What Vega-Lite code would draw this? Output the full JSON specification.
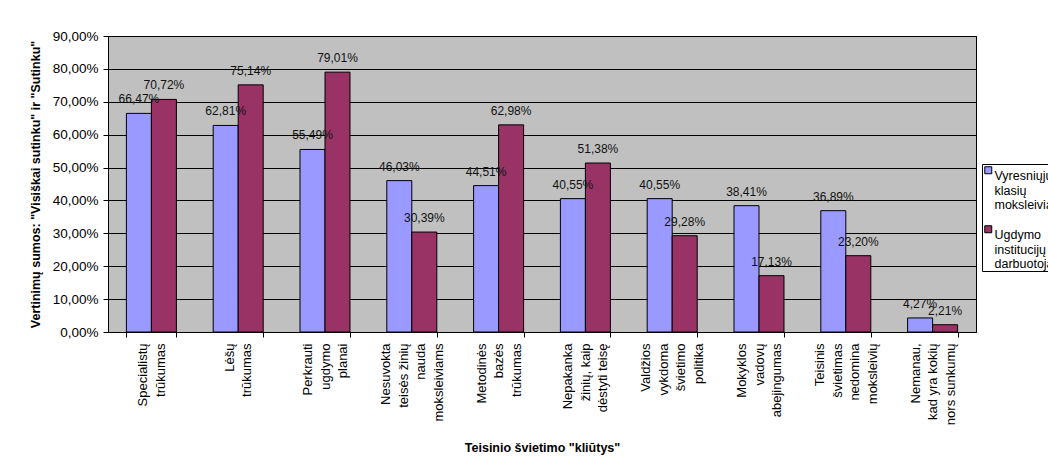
{
  "$schema": "https://vega.github.io/schema/vega-lite/v6.json",
  "width": 868,
  "height": 296,
  "autosize": {"type": "none"},
  "padding": {"left": 108, "top": 36, "right": 72, "bottom": 132},
  "background": "white",
  "data": {
    "values": [
      {"cat": "Specialistų\ntrūkumas", "series": "Vyresniųjų klasių moksleiviai", "value": 0.6647},
      {"cat": "Specialistų\ntrūkumas", "series": "Ugdymo institucijų darbuotojai", "value": 0.7072},
      {"cat": "Lėšų\ntrūkumas", "series": "Vyresniųjų klasių moksleiviai", "value": 0.6281},
      {"cat": "Lėšų\ntrūkumas", "series": "Ugdymo institucijų darbuotojai", "value": 0.7514},
      {"cat": "Perkrauti\nugdymo\nplanai", "series": "Vyresniųjų klasių moksleiviai", "value": 0.5549},
      {"cat": "Perkrauti\nugdymo\nplanai", "series": "Ugdymo institucijų darbuotojai", "value": 0.7901},
      {"cat": "Nesuvokta\nteisės žinių\nnauda\nmoksleiviams", "series": "Vyresniųjų klasių moksleiviai", "value": 0.4603},
      {"cat": "Nesuvokta\nteisės žinių\nnauda\nmoksleiviams", "series": "Ugdymo institucijų darbuotojai", "value": 0.3039},
      {"cat": "Metodinės\nbazės\ntrūkumas", "series": "Vyresniųjų klasių moksleiviai", "value": 0.4451},
      {"cat": "Metodinės\nbazės\ntrūkumas", "series": "Ugdymo institucijų darbuotojai", "value": 0.6298},
      {"cat": "Nepakanka\nžinių, kaip\ndėstyti teisę", "series": "Vyresniųjų klasių moksleiviai", "value": 0.4055},
      {"cat": "Nepakanka\nžinių, kaip\ndėstyti teisę", "series": "Ugdymo institucijų darbuotojai", "value": 0.5138},
      {"cat": "Valdžios\nvykdoma\nšvietimo\npolitika", "series": "Vyresniųjų klasių moksleiviai", "value": 0.4055},
      {"cat": "Valdžios\nvykdoma\nšvietimo\npolitika", "series": "Ugdymo institucijų darbuotojai", "value": 0.2928},
      {"cat": "Mokyklos\nvadovų\nabejingumas", "series": "Vyresniųjų klasių moksleiviai", "value": 0.3841},
      {"cat": "Mokyklos\nvadovų\nabejingumas", "series": "Ugdymo institucijų darbuotojai", "value": 0.1713},
      {"cat": "Teisinis\nšvietimas\nnedomina\nmoksleivių", "series": "Vyresniųjų klasių moksleiviai", "value": 0.3689},
      {"cat": "Teisinis\nšvietimas\nnedomina\nmoksleivių", "series": "Ugdymo institucijų darbuotojai", "value": 0.2320},
      {"cat": "Nemanau,\nkad yra kokių\nnors sunkumų", "series": "Vyresniųjų klasių moksleiviai", "value": 0.0427},
      {"cat": "Nemanau,\nkad yra kokių\nnors sunkumų", "series": "Ugdymo institucijų darbuotojai", "value": 0.0221}
    ]
  },
  "encoding": {
    "x": {
      "field": "cat",
      "type": "nominal",
      "sort": null,
      "scale": {"paddingInner": 0.424, "paddingOuter": 0.212},
      "title": "Teisinio švietimo \"kliūtys\"",
      "axis": {
        "labelAngle": -90,
        "labelAlign": "right",
        "labelBaseline": "middle",
        "labelExpr": "split(datum.label, '\\n')",
        "labelFontSize": 13,
        "labelLineHeight": 17.5,
        "labelPadding": 6,
        "labelColor": "black",
        "labelLimit": 300,
        "tickBand": "extent",
        "tickSize": 5,
        "tickColor": "black",
        "domainColor": "black",
        "titleFontSize": 12.5,
        "titleFontWeight": "bold",
        "titleColor": "black",
        "titlePadding": 17,
        "encoding": {
          "labels": {
            "dy": {"value": {"expr": "-(length(split(datum.value, '\\n')) - 1) * 8.75"}}
          }
        }
      }
    },
    "xOffset": {"field": "series", "type": "nominal", "sort": null},
    "y": {
      "field": "value",
      "type": "quantitative",
      "scale": {"domain": [0, 0.9]},
      "title": "Vertinimų sumos: \"Visiškai sutinku\" ir \"Sutinku\"",
      "axis": {
        "values": [0, 0.1, 0.2, 0.3, 0.4, 0.5, 0.6, 0.7, 0.8, 0.9],
        "format": ".2%",
        "labelFontSize": 13.5,
        "labelColor": "black",
        "labelPadding": 5,
        "tickSize": 5,
        "tickColor": "black",
        "domainColor": "black",
        "grid": true,
        "gridColor": "black",
        "gridOpacity": 1,
        "titleFontSize": 12.5,
        "titleFontWeight": "bold",
        "titleColor": "black",
        "titlePadding": 10
      }
    }
  },
  "layer": [
    {
      "mark": {"type": "bar", "stroke": "black", "strokeWidth": 1},
      "encoding": {
        "color": {
          "field": "series",
          "type": "nominal",
          "sort": null,
          "scale": {
            "domain": ["Vyresniųjų klasių moksleiviai", "Ugdymo institucijų darbuotojai"],
            "range": ["#9999FF", "#993366"]
          },
          "legend": {
            "orient": "none",
            "legendX": 874,
            "legendY": 128,
            "title": null,
            "fillColor": "white",
            "strokeColor": "black",
            "padding": 0,
            "symbolType": "square",
            "symbolSize": 49,
            "symbolStrokeColor": "black",
            "symbolStrokeWidth": 1,
            "labelExpr": "split(replace(datum.label, / /g, '\\n'), '\\n')",
            "labelFontSize": 12.5,
            "labelLineHeight": 15,
            "labelBaseline": "top",
            "labelOffset": 0,
            "labelLimit": 300,
            "labelColor": "black",
            "rowPadding": 11
          }
        }
      }
    },
    {
      "mark": {"type": "text", "baseline": "bottom", "dy": -7, "fontSize": 12, "color": "#111"},
      "encoding": {
        "detail": {"field": "series"},
        "text": {"field": "value", "type": "quantitative", "format": ".2%"}
      }
    }
  ],
  "config": {
    "font": "Liberation Sans",
    "locale": {
      "number": {"decimal": ",", "thousands": " ", "grouping": [3], "currency": ["", " €"]}
    },
    "view": {"fill": "#C0C0C0", "stroke": "black", "strokeWidth": 1},
    "axis": {"labelFont": "Liberation Sans", "titleFont": "Liberation Sans"},
    "text": {"font": "Liberation Sans"}
  }
}
